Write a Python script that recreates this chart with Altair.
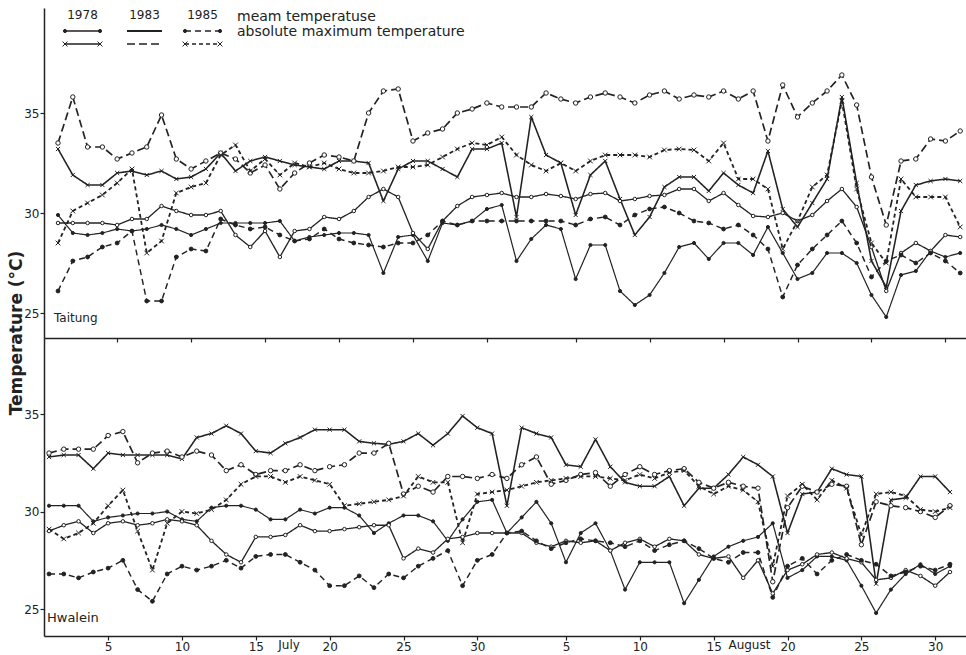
import altair as alt
import pandas as pd

INK = "#222222"
FONT = "DejaVu Sans"

# day 1 = 1 July ... day 62 = 31 August
days = list(range(1, 63))

# ---------------- Taitung (°C) ----------------
taitung_mean_1978 = [29.9, 29.0, 28.9, 29.0, 29.2, 29.1, 29.2, 29.4, 29.2, 28.9,
                     29.2, 29.5, 29.5, 29.5, 29.5, 29.6, 28.6, 28.8, 28.9, 29.0,
                     29.0, 28.9, 27.0, 28.8, 28.9, 27.6, 29.5, 29.4, 29.6, 30.2,
                     30.4, 27.6, 28.7, 29.4, 29.2, 26.7, 28.4, 28.4, 26.1, 25.4,
                     25.9, 27.0, 28.3, 28.5, 27.7, 28.5, 28.5, 27.9, 29.3, 28.0,
                     26.7, 27.0, 28.0, 28.0, 27.5, 25.9, 24.8, 26.9, 27.1, 28.1,
                     27.8, 28.0]
taitung_mean_1983 = [29.5, 29.5, 29.5, 29.5, 29.4, 29.7, 29.7, 30.35, 30.1, 29.9,
                     29.9, 30.1, 28.9, 28.3, 29.1, 27.8, 29.1, 29.2, 29.8, 29.7,
                     30.1, 30.8, 31.2, 30.8, 29.0, 28.2, 29.6, 30.35, 30.8, 30.9,
                     31.0, 30.8, 30.8, 30.95, 30.85, 30.7, 30.95, 31.0, 30.6, 30.7,
                     30.85, 30.9, 31.2, 31.2, 30.6, 31.0, 30.4, 29.85, 29.8, 30.0,
                     29.6, 29.9, 30.6, 31.2, 30.3, 28.3, 26.1, 28.0, 28.5, 28.1,
                     28.9, 28.8]
taitung_mean_1985 = [26.1, 27.6, 27.8, 28.3, 28.5, 29.1, 25.6, 25.6, 27.8, 28.2,
                     28.1, 29.7, 29.4, 29.2, 29.3, 28.9, 28.6, 28.7, 29.2, 28.7,
                     28.5, 28.4, 28.3, 28.5, 28.5, 28.9, 29.6, 29.4, 29.6, 29.6,
                     29.6, 29.6, 29.6, 29.6, 29.6, 29.4, 29.7, 29.8, 29.4, 29.9,
                     30.2, 30.3, 30.0, 29.6, 29.5, 29.2, 29.4, 28.9, 28.2, 25.8,
                     27.4, 28.2, 28.9, 29.6, 28.5, 26.8, 27.6, 27.9, 27.5, 28.0,
                     27.6, 27.0]
taitung_max_1978 = [33.2, 31.9, 31.4, 31.4, 32.0, 32.1, 31.9, 32.1, 31.7, 31.8,
                    32.2, 33.0, 32.1, 32.6, 32.8, 32.6, 32.4, 32.3, 32.2, 32.6,
                    32.6, 32.5, 30.6, 32.2, 32.6, 32.6, 32.2, 31.8, 33.2, 33.2,
                    33.5, 29.8, 34.8, 32.9, 32.5, 29.9, 31.9, 32.6, 30.7, 28.9,
                    29.8, 31.3, 31.8, 31.8, 31.1, 32.0, 31.4, 31.0, 33.1, 30.2,
                    29.3, 30.5, 31.7, 35.8, 31.5, 27.6, 26.3, 30.1, 31.4, 31.6,
                    31.7, 31.6]
taitung_max_1983 = [33.5, 35.8, 33.3, 33.3, 32.7, 33.0, 33.3, 34.9, 32.7, 32.2,
                    32.6, 33.0, 32.7, 32.0, 32.4, 31.2, 32.0, 32.5, 32.9, 32.8,
                    32.6, 35.0, 36.1, 36.2, 33.6, 34.0, 34.2, 35.0, 35.2, 35.5,
                    35.3, 35.3, 35.3, 36.0, 35.7, 35.5, 35.8, 36.0, 35.8, 35.5,
                    35.9, 36.1, 35.7, 35.9, 35.8, 36.1, 35.7, 36.1, 33.6, 36.4,
                    34.8, 35.5, 36.1, 36.9, 35.4, 31.8, 29.4, 32.6, 32.7, 33.7,
                    33.6, 34.1]
taitung_max_1985 = [28.5, 30.1, 30.5, 30.9, 31.5, 32.2, 28.0, 28.6, 31.0, 31.3,
                    31.5, 32.9, 33.4, 32.1, 32.7, 31.9, 32.5, 32.3, 32.5, 32.2,
                    32.0, 32.0, 32.1, 32.3, 32.3, 32.4, 32.8, 33.2, 33.5, 33.4,
                    33.8, 32.9, 32.4, 32.1, 32.5, 32.1, 32.6, 32.9, 32.9, 32.9,
                    32.8, 33.15, 33.2, 33.15, 32.6, 33.5, 31.7, 31.7, 31.2, 28.2,
                    29.6, 31.3, 31.9, 35.6, 31.2, 28.5, 27.5, 31.7, 30.8, 30.8,
                    30.8, 29.3]

# ---------------- Hwalein (°C) ----------------
hwalein_mean_1978 = [30.3, 30.3, 30.3, 29.5, 29.7, 29.8, 29.9, 29.9, 30.0, 29.6,
                     29.5, 30.2, 30.3, 30.3, 30.1, 29.6, 29.6, 30.1, 29.9, 30.2,
                     30.2, 29.8, 28.9, 29.4, 29.8, 29.8, 29.5, 28.5, 29.6, 30.5,
                     30.6, 28.9, 29.7, 30.5, 29.4, 27.4, 28.9, 29.4, 28.0, 26.0,
                     27.4, 27.4, 27.4, 25.3, 26.5, 27.7, 28.2, 28.5, 28.7, 29.4,
                     26.6, 27.0, 27.7, 27.7, 27.5, 26.2, 24.8, 26.0, 26.8, 27.3,
                     26.8, 27.2]
hwalein_mean_1983 = [29.0, 29.3, 29.5, 28.9, 29.4, 29.5, 29.3, 29.4, 29.6, 29.5,
                     29.3, 28.5, 27.8, 27.4, 28.7, 28.7, 28.8, 29.3, 29.0, 29.0,
                     29.1, 29.2, 29.3, 29.3, 27.6, 28.1, 27.9, 28.6, 28.7, 28.9,
                     28.9, 28.9, 28.9, 28.4, 28.2, 28.5, 28.4, 28.5, 28.0, 28.4,
                     28.6, 28.2, 28.6, 28.5, 27.8, 27.6, 27.7, 26.6, 27.5, 25.8,
                     27.0, 27.3, 27.8, 27.9, 27.6, 27.4, 26.5, 26.6, 27.0, 26.7,
                     26.2, 26.9]
hwalein_mean_1985 = [26.8, 26.8, 26.6, 26.9, 27.1, 27.5, 26.0, 25.4, 26.8, 27.2,
                     27.0, 27.2, 27.5, 27.1, 27.7, 27.8, 27.8, 27.4, 27.0, 26.2,
                     26.2, 26.7, 26.1, 26.8, 26.6, 27.2, 27.6, 28.0, 26.2, 27.5,
                     27.8, 28.9, 29.0, 28.5, 28.1, 28.4, 28.6, 28.5, 28.4, 28.2,
                     28.5, 28.0, 28.3, 28.5, 28.1, 27.6, 27.4, 27.9, 27.9, 25.6,
                     27.2, 27.6, 26.8, 27.5, 27.8, 27.5, 27.3, 26.7, 26.9, 27.2,
                     27.0, 27.3]
hwalein_max_1978 = [32.8, 32.9, 32.9, 32.2, 33.0, 32.9, 32.9, 32.9, 32.9, 32.7,
                    33.8, 34.0, 34.4, 34.0, 33.1, 33.0, 33.5, 33.8, 34.2, 34.2,
                    34.2, 33.6, 33.5, 33.45, 33.6, 34.0, 33.4, 34.0, 34.9, 34.3,
                    34.0, 30.3, 34.3, 34.0, 33.8, 32.4, 32.3, 33.7, 32.3, 31.5,
                    31.3, 31.3, 31.8, 30.3, 31.2, 31.2, 31.9, 32.8, 32.4, 31.8,
                    28.9, 30.9, 31.0, 32.2, 31.9, 31.8, 26.3, 30.6, 30.7, 31.8,
                    31.8, 31.0]
hwalein_max_1983 = [33.0, 33.2, 33.2, 33.2, 33.9, 34.1, 32.5, 33.0, 33.1, 32.8,
                    33.1, 32.9, 32.1, 32.4, 31.9, 32.1, 32.1, 32.4, 32.1, 32.3,
                    32.4, 33.0, 33.0, 33.5, 30.9, 31.3, 31.0, 31.8, 31.8, 31.7,
                    31.9, 31.7, 32.4, 32.8, 31.4, 31.6, 31.9, 32.0, 31.3, 31.9,
                    32.3, 31.9, 32.1, 32.2, 31.5, 31.2, 31.5, 31.3, 31.2, 26.4,
                    30.2, 31.3, 31.0, 31.4, 31.3, 28.3, 30.5, 30.3, 30.2, 30.0,
                    29.7, 30.3]
hwalein_max_1985 = [29.1, 28.6, 28.9, 29.4, 30.3, 31.1, 29.0, 27.0, 29.4, 30.0,
                    29.9, 30.1, 30.6, 31.4, 31.8, 31.8, 31.5, 31.8, 31.6, 31.4,
                    30.3, 30.4, 30.5, 30.6, 30.8, 31.8, 31.5, 31.5, 28.4, 30.9,
                    31.0, 31.1, 31.3, 31.5, 31.6, 31.7, 31.8, 31.8, 31.7, 31.6,
                    31.9, 31.7, 32.0, 32.1, 31.3, 30.9, 31.3, 31.1, 30.5, 27.2,
                    30.8, 31.4, 30.6, 31.6, 31.2, 28.8, 30.9, 31.0, 30.8, 30.1,
                    30.0, 30.2]

SERIES = ["1978 mean", "1983 mean", "1985 mean", "1978 max", "1983 max", "1985 max"]
TICK_DAYS = [5, 10, 15, 20, 25, 30, 36, 41, 46, 51, 56, 61]

# line / marker style of each series
X_PATH = "M-1,-1L1,1M-1,1L1,-1"
DASHES = [[1, 0], [1, 0], [6, 4], [1, 0], [8, 4], [4, 3]]
WIDTHS = [1.2, 1.8, 1.3, 1.1, 1.3, 1.3]
SHAPES = ["circle", "circle", "circle", X_PATH, "circle", X_PATH]
FILLS = [INK, "white", INK, "transparent", "white", "transparent"]
SIZES = [10, 22, 10, 24, 22, 24]


def long_table(cols):
    rows = []
    for name, vals in zip(SERIES, cols):
        for d, v in zip(days, vals):
            rows.append({"series": name, "day": d, "temp": v})
    return pd.DataFrame(rows)


taitung = long_table([taitung_mean_1978, taitung_mean_1983, taitung_mean_1985,
                      taitung_max_1978, taitung_max_1983, taitung_max_1985])
hwalein = long_table([hwalein_mean_1978, hwalein_mean_1983, hwalein_mean_1985,
                      hwalein_max_1978, hwalein_max_1983, hwalein_max_1985])

W = 922
ONE = alt.Data(values=[{}])


def panel(df, xdom, ydom, bottom):
    xaxis = alt.Axis(values=TICK_DAYS, labels=bottom,
                     labelExpr="datum.value > 31 ? datum.value - 31 : datum.value",
                     tickSize=4, labelPadding=1, grid=False, title=None,
                     domainColor=INK, tickColor=INK, domainWidth=1.5, tickWidth=1.2,
                     labelFont=FONT, labelFontSize=12, labelColor=INK)
    yaxis = alt.Axis(values=[25, 30, 35], tickSize=4, labelPadding=1, grid=False, title=None,
                     domainColor=INK, tickColor=INK, domainWidth=1.5, tickWidth=1.2,
                     labelFont=FONT, labelFontSize=12, labelColor=INK)
    ex = alt.X("day:Q", scale=alt.Scale(domain=xdom, nice=False, zero=False), axis=xaxis)
    ey = alt.Y("temp:Q", scale=alt.Scale(domain=ydom, nice=False, zero=False), axis=yaxis)
    base = alt.Chart(df)
    lines = base.mark_line(color=INK, strokeJoin="round").encode(
        x=ex, y=ey,
        detail="series:N",
        strokeDash=alt.StrokeDash("series:N", scale=alt.Scale(domain=SERIES, range=DASHES), legend=None),
        strokeWidth=alt.StrokeWidth("series:N", scale=alt.Scale(domain=SERIES, range=WIDTHS), legend=None),
    )
    points = base.mark_point(filled=True, stroke=INK, strokeWidth=1, opacity=1).encode(
        x=ex, y=ey,
        shape=alt.Shape("series:N", scale=alt.Scale(domain=SERIES, range=SHAPES), legend=None),
        fill=alt.Fill("series:N", scale=alt.Scale(domain=SERIES, range=FILLS), legend=None),
        size=alt.Size("series:N", scale=alt.Scale(domain=SERIES, range=SIZES), legend=None),
    )
    return [lines, points]


def label(text, x, y, size=12, align="left", weight="normal", angle=0):
    return alt.Chart(ONE).mark_text(text=text, font=FONT, fontSize=size, color=INK,
                                    fontWeight=weight, angle=angle,
                                    align=align, baseline="middle").encode(
        x=alt.value(x), y=alt.value(y))


# hand-drawn key in the upper-left corner of the Taitung panel
legend_layers = []
COL_X = {"1978": 21, "1983": 83, "1985": 141}
ROW_Y = {"mean": 23, "max": 36}
SEG = 35
for i, name in enumerate(SERIES):
    year, kind = name.split()
    x0 = COL_X[year]
    y0 = ROW_Y[kind]
    legend_layers.append(
        alt.Chart(ONE).mark_rule(color=INK, strokeDash=DASHES[i], strokeWidth=WIDTHS[i] + 0.2)
        .encode(x=alt.value(x0), x2=alt.value(x0 + SEG), y=alt.value(y0))
    )
    if year != "1983":
        for xm in (x0, x0 + SEG):
            legend_layers.append(
                alt.Chart(ONE).mark_point(shape=SHAPES[i], size=SIZES[i], filled=True,
                                          fill=FILLS[i], stroke=INK, strokeWidth=1, opacity=1)
                .encode(x=alt.value(xm), y=alt.value(y0))
            )
for year, x0 in COL_X.items():
    legend_layers.append(label(year, x0 + SEG / 2, 7, size=12, align="center"))
legend_layers.append(label("meam temperatuse", 193, 9, size=14))
legend_layers.append(label("absolute maximum temperature", 193, 24, size=14))

top = alt.layer(
    *panel(taitung, [0.053, 0.053 + W / 14.79], [23.75, 40.25], bottom=False),
    label("Taitung", 10, 310, size=12),
    *legend_layers,
).properties(width=W, height=330)

month_marks = [
    alt.Chart(ONE).mark_text(text="July", font=FONT, fontSize=12, color=INK,
                             align="center", baseline="middle")
    .encode(x=alt.datum(17.25), y=alt.value(307)),
    alt.Chart(ONE).mark_text(text="August", font=FONT, fontSize=12, color=INK,
                             align="left", baseline="middle")
    .encode(x=alt.datum(47.0), y=alt.value(307)),
]

bottom = alt.layer(
    *panel(hwalein, [0.66, 0.66 + W / 14.77], [23.62, 38.9], bottom=True),
    label("Hwalein", 3, 280, size=13),
    label("Temperature (°C)", -27, -5, size=17, align="center", weight="bold", angle=270),
    *month_marks,
).properties(width=W, height=298)

chart = (
    alt.vconcat(top, bottom, spacing=0, bounds="flush")
    .resolve_scale(x="independent", y="independent")
    .properties(padding={"left": 7, "top": 8, "right": 0, "bottom": 0}, background="white")
    .configure_view(strokeWidth=0)
)

chart.save("out.html", embed_options={"renderer": "svg", "actions": False})
